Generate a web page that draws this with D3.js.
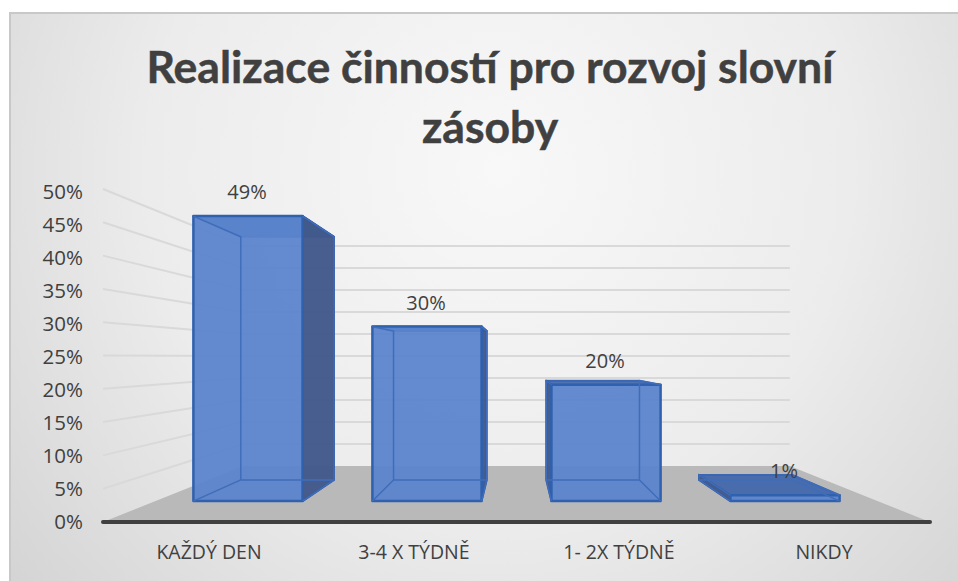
<!DOCTYPE html>
<html>
<head>
  <meta charset="utf-8">
  <title>Realizace činností</title>
  <script src="https://d3js.org/d3.v7.min.js"></script>
  <style>
    html, body { margin: 0; padding: 0; background: #fff; overflow: hidden; }
    svg { display: block; }
    text { font-family: "Open Sans", sans-serif; fill: #404040; }
  </style>
</head>
<body>
<script>
  var categories = ["KAŽDÝ DEN", "3-4 X TÝDNĚ", "1- 2X TÝDNĚ", "NIKDY"];
  var values = [49, 30, 20, 1];
  var valueLabels = ["49%", "30%", "20%", "1%"];
  var ticks = [0, 5, 10, 15, 20, 25, 30, 35, 40, 45, 50];
  var titleLines = ["Realizace činností pro rozvoj slovní", "zásoby"];

  var width = 958, height = 581;

  var svg = d3.select("body").append("svg")
    .attr("width", width)
    .attr("height", height);

  // page gradient
  var grad = svg.append("defs").append("radialGradient")
    .attr("id", "bg")
    .attr("gradientUnits", "userSpaceOnUse")
    .attr("cx", 500).attr("cy", 170).attr("r", 640);
  grad.append("stop").attr("offset", "0%").attr("stop-color", "#f8f8f8");
  grad.append("stop").attr("offset", "55%").attr("stop-color", "#ececec");
  grad.append("stop").attr("offset", "100%").attr("stop-color", "#d4d4d4");

  svg.append("rect")
    .attr("x", 10).attr("y", 13)
    .attr("width", width).attr("height", height)
    .attr("fill", "url(#bg)")
    .attr("stroke", "#c8c8c8")
    .attr("stroke-width", 2);

  // the 3d box: front plane mapped through these, then pulled to the vanishing point
  var cx = 516.5, cy = 357;
  var xWall = d3.scaleLinear().domain([0, 1]).range([-413.5, 413.5]);
  var xBand = d3.scaleBand().domain(categories).range([-410, 410]).paddingInner(0.39).paddingOuter(0.195);
  var yVal = d3.scaleLinear().domain([0, 50]).range([165, -168]);
  var depth = d3.scaleLinear().domain([0, 1]).range([1, 1.513]);

  // front and back of the bars inside the box
  var barFront = 0.283, barBack = 0.667;

  function project(x, v, d) {
    var s = 1 / depth(d);
    return [cx + x * s, cy + yVal(v) * s];
  }

  var line = d3.line();
  var left = xWall(0), right = xWall(1);

  // floor
  svg.append("path")
    .attr("d", line([project(left, 0, 0), project(left, 0, 1), project(right, 0, 1), project(right, 0, 0)]) + "Z")
    .attr("fill", "#b9b9b9");

  // gridlines on the left wall and back wall
  var grid = svg.append("g")
    .attr("fill", "none")
    .attr("stroke", "#d9d9d9")
    .attr("stroke-width", 2);

  grid.selectAll("path")
    .data(ticks.filter(function(d) { return d > 0; }))
    .enter()
    .append("path")
    .attr("d", function(d) {
      return line([project(left, d, 0), project(left, d, 1), project(right, d, 1)]);
    });

  // bars, each drawn as a see-through box
  var bars = svg.selectAll(".bar")
    .data(categories)
    .enter()
    .append("g")
    .attr("class", "bar");

  bars.each(function(c, i) {
    var g = d3.select(this);
    var x0 = xBand(c), x1 = x0 + xBand.bandwidth(), v = values[i];
    var mid = (x0 + x1) / 2;

    function face(pts, fill, op, stroke, sw) {
      g.append("path")
        .attr("d", line(pts) + "Z")
        .attr("fill", fill)
        .attr("fill-opacity", op)
        .attr("stroke", stroke)
        .attr("stroke-width", sw)
        .attr("stroke-linejoin", "round");
    }

    var f0b = project(x0, 0, barFront), f1b = project(x1, 0, barFront);
    var f0t = project(x0, v, barFront), f1t = project(x1, v, barFront);
    var b0b = project(x0, 0, barBack), b1b = project(x1, 0, barBack);
    var b0t = project(x0, v, barBack), b1t = project(x1, v, barBack);

    // the side away from the middle is dark, everything else shows through the front
    face([f0t, f1t, b1t, b0t], "#3c64ab", 0.9, "#3a66b2", 2);
    if (mid < 0) face([f1b, b1b, b1t, f1t], "#41598a", 0.97, "#35589a", 2);
    else face([f0b, b0b, b0t, f0t], "#41598a", 0.97, "#35589a", 2);
    face([f0b, f1b, f1t, f0t], "#5a84cc", 0.94, "#3061ae", 2.5);

    // back edges, seen through the front
    g.append("path")
      .attr("d", line([f0t, b0t, b0b, b1b, b1t, f1t]) + "M" + f0b + "L" + b0b + "M" + f1b + "L" + b1b)
      .attr("fill", "none")
      .attr("stroke", "#3f6dbb")
      .attr("stroke-width", 1.5);

    g.append("text")
      .attr("x", project(mid, v, barFront)[0] - 1)
      .attr("y", project(mid, v, barFront)[1] - 24)
      .attr("dy", "0.35em")
      .attr("text-anchor", "middle")
      .attr("font-size", 20)
      .text(valueLabels[i]);
  });

  // front axis line
  svg.append("line")
    .attr("x1", project(left, 0, 0)[0]).attr("x2", project(right, 0, 0)[0])
    .attr("y1", project(left, 0, 0)[1]).attr("y2", project(left, 0, 0)[1])
    .attr("stroke", "#404040")
    .attr("stroke-width", 4)
    .attr("stroke-linecap", "round");

  // y axis
  var yAxis = d3.scaleLinear().domain([0, 50]).range([cy + yVal(0), cy + yVal(50) + 3]);
  svg.append("g")
    .attr("transform", "translate(83,0)")
    .call(d3.axisLeft(yAxis).tickValues(ticks).tickSize(0).tickPadding(0).tickFormat(function(d) { return d + "%"; }))
    .call(function(g) { g.select(".domain").remove(); })
    .selectAll("text")
    .attr("font-size", 20.5);

  // x axis
  var xAxisScale = d3.scaleBand().domain(categories).range([cx - 410, cx + 410]);
  svg.append("g")
    .attr("transform", "translate(0,553)")
    .call(d3.axisBottom(xAxisScale).tickSize(0).tickPadding(0))
    .call(function(g) { g.select(".domain").remove(); })
    .selectAll("text")
    .attr("dy", "0.32em")
    .attr("y", 0)
    .attr("font-size", 19.5);

  // title
  svg.selectAll(".title")
    .data(titleLines)
    .enter()
    .append("text")
    .attr("class", "title")
    .attr("x", 490)
    .attr("y", function(d, i) { return 83 + i * 60; })
    .attr("text-anchor", "middle")
    .style("font-family", "Lato, sans-serif")
    .attr("font-weight", 700)
    .attr("font-size", 44.5)
    .attr("stroke", "#404040")
    .attr("stroke-width", 0.5)
    .text(function(d) { return d; });
</script>
</body>
</html>
